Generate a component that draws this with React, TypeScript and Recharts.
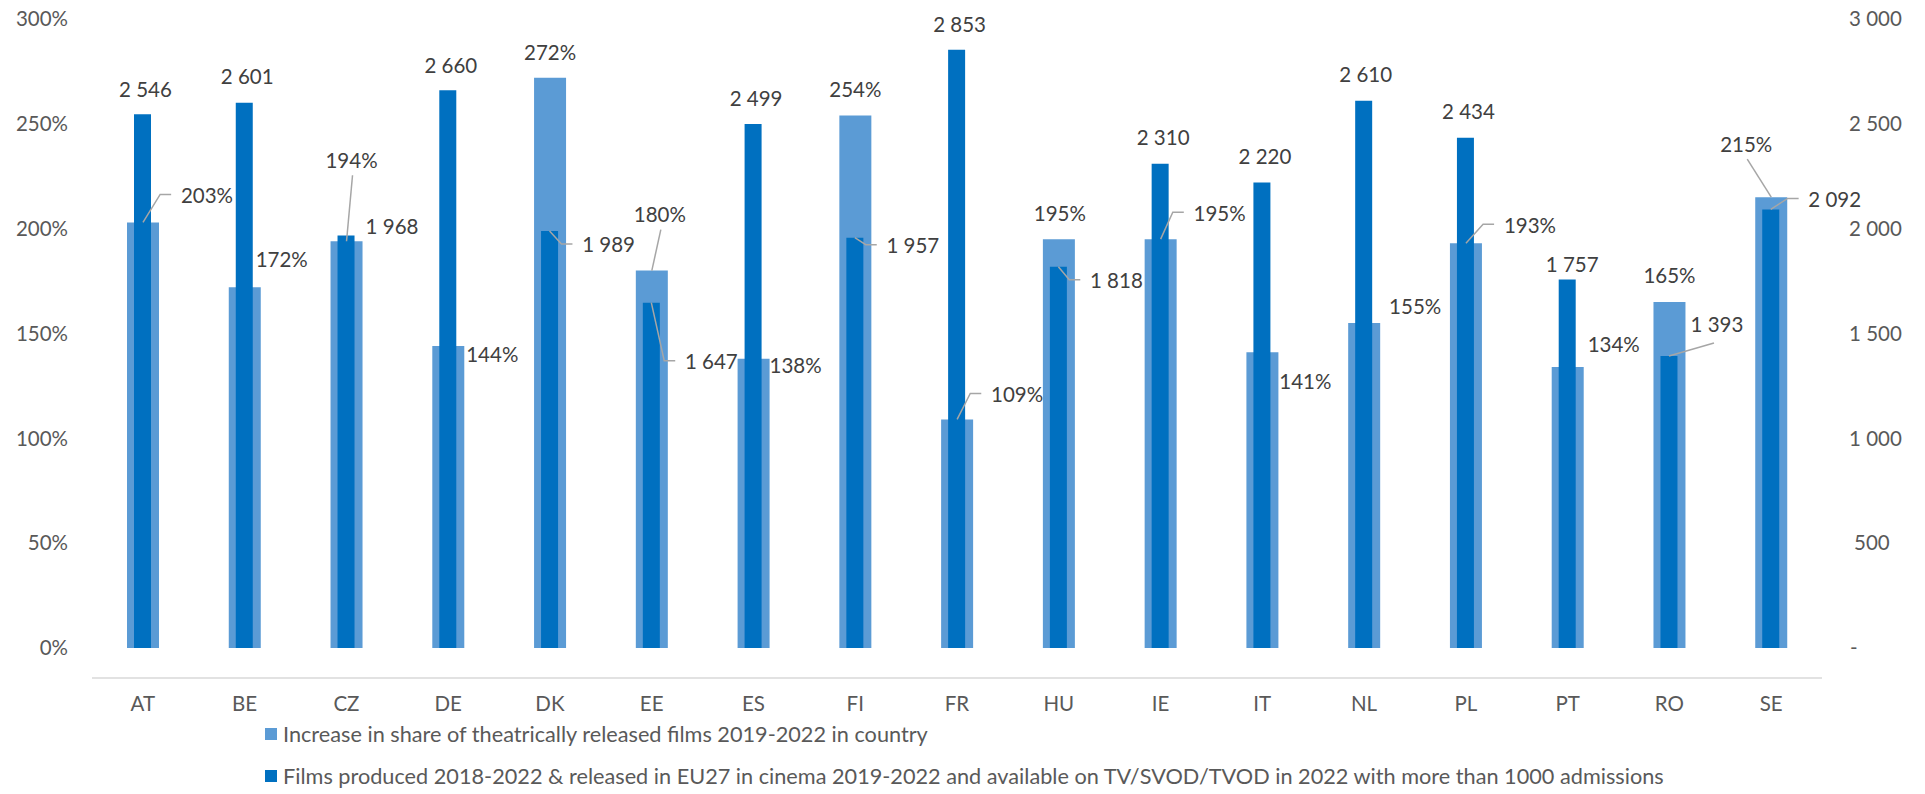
import React from "react";
import { Bar, BarChart, LabelList, XAxis, YAxis } from "recharts";

const countries = ["AT", "BE", "CZ", "DE", "DK", "EE", "ES", "FI", "FR", "HU", "IE", "IT", "NL", "PL", "PT", "RO", "SE"];
const shareIncrease = [203, 172, 194, 144, 272, 180, 138, 254, 109, 195, 195, 141, 155, 193, 134, 165, 215];
const filmsAvailable = [2546, 2601, 1968, 2660, 1989, 1647, 2499, 1957, 2853, 1818, 2310, 2220, 2610, 2434, 1757, 1393, 2092];
const pctTicks = [0, 50, 100, 150, 200, 250, 300];
const countTicks = [0, 500, 1000, 1500, 2000, 2500, 3000];
const shareName = "Increase in share of theatrically released films 2019-2022 in country";
const filmsName =
  "Films produced 2018-2022 & released in EU27 in cinema 2019-2022 and available on TV/SVOD/TVOD in 2022 with more than 1000 admissions";

// where each data label sits relative to the top of its bar: [dx, dy, leader type]
type Place = [number, number, string];
const sharePlace: Place[] = [
  [64, -27, "elbow"], [37, -28, ""], [5, -81, "up"], [44, 9, ""], [0, -25, ""], [8, -56, "up"],
  [42, 7, ""], [0, -26, ""], [60, -25, "elbow"], [1, -26, ""], [59, -26, "elbow"], [43, 29, ""],
  [51, -16, ""], [64, -18, "elbow"], [46, -22, ""], [0, -26, ""], [-25, -53, "up"],
];
const filmsPlace: Place[] = [
  [3, -25, ""], [3, -26, ""], [46, -9, ""], [3, -25, ""], [59, 14, "elbow"], [60, 59, "elbow"],
  [3, -25, ""], [58, 8, "elbow"], [3, -25, ""], [58, 14, "elbow"], [3, -26, ""], [3, -26, ""],
  [2, -26, ""], [3, -26, ""], [5, -15, ""], [48, -31, "side"], [64, -10, "elbow"],
];

const data = countries.map((c, i) => ({ country: c, share: shareIncrease[i], films: filmsAvailable[i] }));

const FONT = "Lato, 'Open Sans', sans-serif";
const FS = 20.5;
const LIGHT = "#5B9BD5";
const DARK = "#0070C0";

const fmtCount = (v: number) => (v === 0 ? "-" : String(v).replace(/\B(?=(\d{3})+(?!\d))/g, " "));
const fmtPct = (v: number) => `${v}%`;

// rough text width for Lato at FS
const textWidth = (s: string) =>
  s.split("").reduce((w, ch) => w + (ch === " " ? 4.6 : ch === "%" ? 16 : 11.9), 0);

const makeLabel = (places: Place[], fmt: (v: number) => string) => (props: any) => {
  const vb = props.viewBox || props;
  const idx = props.index;
  if (idx == null || !places[idx]) return null;
  const bx = vb.x + vb.width / 2;
  const by = vb.y;
  const [dx, dy, leader] = places[idx];
  const cx = bx + dx;
  const cy = by + dy;
  const txt = fmt(props.value);
  const left = cx - textWidth(txt) / 2;
  let path = "";
  if (leader === "elbow") path = `M${bx},${by} L${left - 21},${cy - 1} L${left - 10},${cy - 1}`;
  if (leader === "up") path = `M${bx},${by} L${cx + 1},${cy + 15}`;
  if (leader === "side") path = `M${bx},${by} L${cx - 3},${cy + 18}`;
  return (
    <g>
      {path && <path d={path} fill="none" stroke="#a6a6a6" strokeWidth={1.5} />}
      <text x={cx} y={cy} dy="0.36em" textAnchor="middle" fill="#404040" fontSize={FS} fontFamily={FONT}>
        {txt}
      </text>
    </g>
  );
};

const CountTick = (props: any) => {
  const { x, y, payload } = props;
  const v = payload.value;
  const shift = v === 0 ? 1 : v < 1000 ? 5 : 0;
  return (
    <text x={x + shift} y={y} dy="0.355em" textAnchor="start" fill="#595959" fontSize={FS} fontFamily={FONT}>
      {fmtCount(v)}
    </text>
  );
};

export default function App() {
  return (
    <div style={{ position: "absolute", left: 0, top: 0, width: 1925, height: 794, background: "#fff" }}>
      <BarChart width={1925} height={794} data={data} margin={{ top: 19, right: 0, left: 0, bottom: 116 }}>
        <XAxis
          xAxisId="pct"
          dataKey="country"
          height={30}
          tickLine={false}
          tickSize={0}
          tickMargin={18}
          axisLine={{ stroke: "#d9d9d9", strokeWidth: 1.5 }}
          tick={{ fill: "#595959", fontSize: FS, fontFamily: FONT }}
          interval={0}
        />
        <XAxis xAxisId="cnt" dataKey="country" hide />
        <YAxis
          yAxisId="left"
          width={92}
          domain={[0, 300]}
          ticks={pctTicks}
          tickFormatter={fmtPct}
          axisLine={false}
          tickLine={false}
          tickSize={0}
          tickMargin={24}
          tick={{ fill: "#595959", fontSize: FS, fontFamily: FONT }}
        />
        <YAxis
          yAxisId="right"
          orientation="right"
          width={103}
          domain={[0, 3000]}
          ticks={countTicks}
          axisLine={false}
          tickLine={false}
          tickSize={0}
          tickMargin={27}
          tick={<CountTick />}
        />
        <Bar
          xAxisId="pct"
          yAxisId="left"
          dataKey="share"
          name={shareName}
          fill={LIGHT}
          barSize={32}
          isAnimationActive={false}
        >
          <LabelList dataKey="share" content={makeLabel(sharePlace, fmtPct)} />
        </Bar>
        <Bar
          xAxisId="cnt"
          yAxisId="right"
          dataKey="films"
          name={filmsName}
          fill={DARK}
          barSize={17}
          isAnimationActive={false}
        >
          <LabelList dataKey="films" content={makeLabel(filmsPlace, fmtCount)} />
        </Bar>
      </BarChart>
      <div style={{ position: "absolute", left: 265, top: 720, fontFamily: FONT, fontSize: 21.7, color: "#595959" }}>
        {[
          { name: shareName, color: LIGHT },
          { name: filmsName, color: DARK },
        ].map((s) => (
          <div key={s.name} style={{ display: "flex", alignItems: "center", height: 27, marginBottom: 15 }}>
            <span style={{ display: "inline-block", width: 12, height: 12, background: s.color, marginRight: 6 }} />
            <span>{s.name}</span>
          </div>
        ))}
      </div>
    </div>
  );
}
